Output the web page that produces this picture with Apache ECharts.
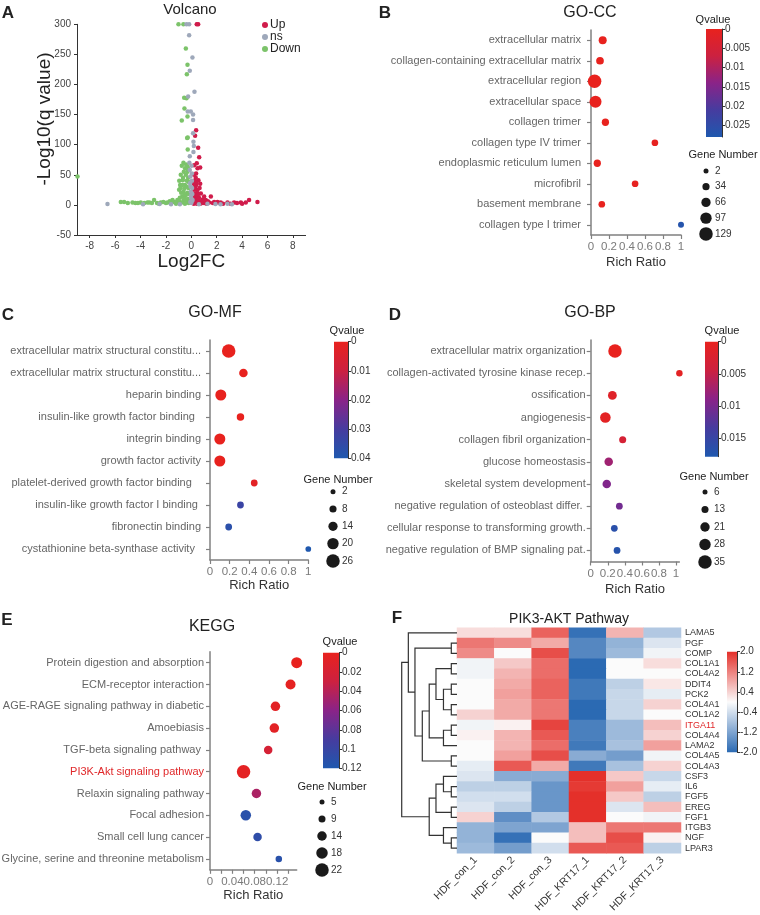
<!DOCTYPE html>
<html><head><meta charset="utf-8">
<script src="https://cdn.jsdelivr.net/npm/echarts@6/dist/echarts.min.js"></script>
<style>html,body{margin:0;padding:0;background:#fff}#c{width:760px;height:915px}</style>
</head><body><div id="c"></div>
<script>
// ---------------- DATA ----------------
const volcanoUp = [
[0.43,300],[0.54,300],[0.38,124],[0.30,115],[0.54,95],[0.62,79],[0.43,69],[0.22,66],
[0.49,61],[0.70,62],[0.38,52],[0.56,41],[0.38,33],[0.70,35],[0.49,25],[0.75,19],[0.35,14],[1.01,14],[1.54,14],[1.14,8],
[2.06,5],[2.85,4],[3.9,4],[4.55,8],[5.21,5],[4.29,4],[3.37,4],[2.32,4],[1.80,5],[1.4,4],
[0.25,40],[0.30,30],[0.22,25],[0.45,20],[0.28,18],[0.60,12],[0.25,10],[0.40,8],[0.80,6],[0.30,4],[0.55,3],[0.20,2],
[1.0,3],[1.2,2],[0.65,28],[0.90,9],[1.7,3],[2.5,2],[3.1,2],[3.6,3],[4.0,2],[0.35,45],[0.20,35],[0.20,15],[0.50,16],
[0.30,8],[0.25,5],[0.60,5],[0.45,2],[0.70,2],[0.85,3],[1.3,6],[2.2,3],[0.22,50],[0.40,38],[0.55,10]
];
const volcanoNs = [
[-0.38,300],[-0.17,300],[-0.17,282],[0.09,245],[-0.12,223],[0.25,188],[-0.25,180],[-0.28,155],[-0.04,155],[0.14,150],
[0.14,141],[0.14,119],[0.17,105],[0.20,98],[0.17,88],[-0.12,81],
[-0.12,58],[-0.07,47],[-0.10,36],[-0.04,22],[0,11],[0,3],[0.05,40],[-0.05,30],[0.08,18],[0.10,8],[-0.08,5],[0.05,52],
[0.02,65],[-0.15,70],[0.06,28],[-0.02,15],[0.04,6],
[-6.6,1.5],[1.27,2],[1.9,1.5],[2.85,2],[3.2,1],[-2.5,1.5],[-1.6,1.2],[-3.8,1],[-0.9,1],[0.6,1],[2.3,1]
];
const volcanoDown = [
[-1.01,300],[-0.62,300],[-0.43,260],[-0.30,233],[-0.35,217],[-0.56,178],[-0.38,177],[-0.54,160],[-0.30,147],[-0.75,140],
[-0.28,112],[-0.33,111],[-0.28,92],
[-0.62,70],[-0.41,67],[-0.75,65],[-0.49,61],[-0.30,64],[-0.59,55],[-0.83,50],[-0.43,50],[-0.67,41],[-0.88,33],[-0.49,33],
[-0.96,25],[-0.62,22],[-0.72,14],[-1.09,8],[-1.35,5],[-1.61,4],
[-0.25,45],[-0.20,38],[-0.35,30],[-0.55,27],[-0.80,20],[-0.30,20],[-0.45,15],[-0.90,12],[-0.25,10],[-0.60,8],[-0.40,5],
[-0.75,4],[-0.20,3],[-1.2,2],[-0.50,2],[-0.30,55],[-0.65,45],[-0.95,40],[-0.22,28],[-0.85,28],[-0.20,18],[-0.50,10],
[-0.35,40],[-0.70,33],[-0.25,60],[-0.55,18],[-0.95,6],
[-5.55,5],[-5.29,5],[-4.63,4],[-3.98,4],[-3.45,4],[-2.93,8],[-2.4,4],[-1.88,4],[-1.48,8],[-1.22,4],[-3.3,4],[-4.2,3],
[-5.0,3],[-4.4,3],[-3.7,3],[-2.7,3],[-2.2,5],[-2.0,3],[-1.7,6],[-3.1,3],[-2.55,2],
[-8.96,47]
];
const volcanoXTicks = [-8,-6,-4,-2,0,2,4,6,8];

const ccTerms = ['extracellular matrix','collagen-containing extracellular matrix','extracellular region','extracellular space','collagen trimer','collagen type IV trimer','endoplasmic reticulum lumen','microfibril','basement membrane','collagen type I trimer'];
const ccRatio = [0.13,0.10,0.04,0.05,0.16,0.71,0.07,0.49,0.12,1.0];
const ccGenes = [47,42,129,107,36,27,36,27,27,17];
const ccQ = [0,0,0,0,0,0.0005,0,0.0005,0,0.027];
const ccGeneLegend = [2,34,66,97,129];
const ccQTicks = [0,0.005,0.01,0.015,0.02,0.025];

const mfTerms = ['extracellular matrix structural constitu...','extracellular matrix structural constitu...','heparin binding','insulin-like growth factor binding  ','integrin binding','growth factor activity','platelet-derived growth factor binding   ','insulin-like growth factor I binding ','fibronectin binding','cystathionine beta-synthase activity  '];
const mfRatio = [0.19,0.34,0.11,0.31,0.10,0.10,0.45,0.31,0.19,1.0];
const mfGenes = [26,12,19,9,19,19,7,7,7,4];
const mfQ = [0,0,0,0,0,0,0.002,0.033,0.037,0.04];
const mfGeneLegend = [2,8,14,20,26];
const mfQTicks = [0,0.01,0.02,0.03,0.04];

const bpTerms = ['extracellular matrix organization','collagen-activated tyrosine kinase recep.','ossification','angiogenesis','collagen fibril organization','glucose homeostasis','skeletal system development','negative regulation of osteoblast differ. ','cellular response to transforming growth.','negative regulation of BMP signaling pat.'];
const bpRatio = [0.285,1.04,0.254,0.172,0.375,0.211,0.188,0.336,0.277,0.309];
const bpGenes = [35,11,19,25,13,18,18,12,12,12];
const bpQ = [0,0.0008,0.0015,0.0008,0.003,0.0075,0.0095,0.0105,0.0165,0.017];
const bpGeneLegend = [6,13,21,28,35];
const bpQTicks = [0,0.005,0.01,0.015];

const keggTerms = ['Protein digestion and absorption','ECM-receptor interaction','AGE-RAGE signaling pathway in diabetic','Amoebiasis','TGF-beta signaling pathway ','PI3K-Akt signaling pathway','Relaxin signaling pathway','Focal adhesion','Small cell lung cancer','Glycine, serine and threonine metabolism'];
const keggRatio = [0.155,0.144,0.117,0.115,0.104,0.060,0.083,0.064,0.085,0.123];
const keggGenes = [17,15,14,14,12,22,14,16,12,8];
const keggQ = [0,0.003,0.006,0.006,0.02,0.004,0.045,0.112,0.108,0.112];
const keggGeneLegend = [5,9,14,18,22];
const keggQTicks = [0,0.02,0.04,0.06,0.08,0.1,0.12];

const richTicks = [0,0.2,0.4,0.6,0.8,1];
const keggTicks = [0,0.02,0.04,0.06,0.08,0.1,0.12,0.14];
const keggLabels = [0,0.04,0.08,0.12];

const heatSamples = ['HDF_con_1','HDF_con_2','HDF_con_3','HDF_KRT17_1','HDF_KRT17_2','HDF_KRT17_3'];
const heatGenes = ['LAMA5','PGF','COMP','COL1A1','COL4A2','DDIT4','PCK2','COL4A1','COL1A2','ITGA11','COL4A4','LAMA2','COL4A5','COL4A3','CSF3','IL6','FGF5','EREG','FGF1','ITGB3','NGF','LPAR3'];
const heatValues = [
[0.3,0.3,1.5,-1.9,0.7,-0.7],
[1.3,1.1,0.8,-1.6,-1.0,-0.3],
[1.1,0.0,1.7,-1.6,-0.9,-0.1],
[-0.1,0.5,1.4,-2.0,0.0,0.3],
[-0.1,0.7,1.4,-2.0,0.0,0.0],
[0.0,0.8,1.5,-1.8,-0.6,0.2],
[0.0,0.9,1.5,-1.8,-0.5,-0.2],
[0.0,0.8,1.3,-2.0,-0.5,0.4],
[0.4,0.8,1.3,-2.0,-0.5,0.0],
[-0.1,0.1,1.8,-1.7,-0.9,0.6],
[0.1,0.7,1.6,-1.7,-0.9,0.4],
[0.0,0.7,1.4,-1.8,-0.8,0.9],
[0.0,0.9,1.7,-1.1,-1.3,-0.1],
[-0.2,1.6,0.8,-1.8,-0.8,0.4],
[-0.3,-1.1,-1.1,2.0,0.5,-0.5],
[-0.6,-0.6,-1.4,1.9,0.9,-0.2],
[-0.4,-0.4,-1.4,2.0,0.5,-0.6],
[-0.3,-0.6,-1.4,2.0,-0.3,0.6],
[0.4,-1.5,-0.7,2.0,0.0,-0.1],
[-1.0,-1.2,-1.2,0.6,1.3,1.3],
[-1.0,-1.9,0.0,0.6,1.7,0.1],
[-0.9,-1.3,-0.4,1.6,1.6,-0.6]
];
const heatTicks = [-2,-1.2,-0.4,0.4,1.2,2];
// dendrogram: [height, left, right]; leaves = row index
const dendro = [7.76,
  [6.83, 0, [5.9, [0.8,1,2], [4.87, [3.9, [2.95,[0.8,3,4],[1.9,[0.8,5,6],[0.8,7,8]]], [1.9,[0.8,9,10],11]], [0.8,12,13]]]],
  [3.9, [2.95,[1.9,14,[0.8,15,16]],[0.8,17,18]], [1.9,19,[0.8,20,21]]]
];

// ---------------- BUILD ----------------
const FONT = "'Liberation Sans', Arial, Helvetica, sans-serif";
const Q_COLORS = ['#e8221e','#cc2140','#8a2388','#463c9f','#1f58ae'];
const HEAT_COLORS = ['#2b6ab3','#fbfbfb','#e4302a'];
const chart = echarts.init(document.getElementById('c'), null, {renderer:'canvas', width:760, height:915});
const grids=[], xAxes=[], yAxes=[], series=[], visualMaps=[], graphics=[];
function addGrid(rect, xa, ya){
  const i = grids.length;
  grids.push(Object.assign({containLabel:false, outerBoundsMode:'none'}, rect));
  xa.gridIndex=i; ya.gridIndex=i; xAxes.push(xa); yAxes.push(ya); return i;
}
function label(t, x, y, size, extra){
  graphics.push({type:'text', x:x, y:y, silent:true, z:100,
    style:Object.assign({text:t, fontSize:size, fontFamily:FONT, fill:'#222', align:'center', verticalAlign:'middle'}, extra||{})});
}
function gradient(colors){
  return new echarts.graphic.LinearGradient(0,0,0,1, colors.map((c,i)=>({offset:i/(colors.length-1), color:c})));
}
function colorBar(rect, min, max, inverse, ticks, colorsTopBottom, fmt){
  const gi = addGrid(rect, {type:'value', min:0, max:1, show:false},
    {type:'value', min:min, max:max, inverse:inverse, position:'right',
     axisLine:{show:true, onZero:false, lineStyle:{color:'#333', width:1}},
     axisTick:{show:true, length:3, customValues:ticks, lineStyle:{color:'#333'}},
     axisLabel:{show:true, customValues:ticks, fontSize:10, color:'#333', margin:3, fontFamily:FONT, formatter:fmt, hideOverlap:false},
     splitLine:{show:false}});
  series.push({type:'custom', xAxisIndex:gi, yAxisIndex:gi, silent:true, data:[[min,max]],
    renderItem:(p, api)=>{
      const a=api.coord([0, api.value(0)]), b=api.coord([1, api.value(1)]);
      return {type:'rect', shape:{x:Math.min(a[0],b[0]), y:Math.min(a[1],b[1]), width:Math.abs(b[0]-a[0]), height:Math.abs(b[1]-a[1])},
              style:{fill:gradient(colorsTopBottom)}};
    }});
}
function dotPanel(c){
  const L = c.legend;
  const sizeOf = n => 5 + 8.5*(n - L[0])/(L[L.length-1]-L[0]);
  const gi = addGrid(c.grid,
    {type:'value', min:0, max:c.xmax, name:'Rich Ratio', nameLocation:'middle', nameGap:c.nameGap,
     nameTextStyle:{fontSize:13, color:'#333', fontFamily:FONT},
     axisLine:{show:true, onZero:false, lineStyle:{color:'#808080', width:1.5}},
     axisTick:{show:true, length:4, customValues:c.ticks, lineStyle:{color:'#808080', width:1.2}},
     axisLabel:{show:true, customValues:c.labels, fontSize:11.5, color:'#7a7a7a', margin:6, fontFamily:FONT, hideOverlap:false,
       showMinLabel:true, showMaxLabel:true},
     splitLine:{show:false}},
    {type:'category', data:c.terms, inverse:true, boundaryGap:true,
     axisLine:{show:true, onZero:false, lineStyle:{color:'#808080', width:1.5}},
     axisTick:{show:true, alignWithLabel:true, length:4, lineStyle:{color:'#808080', width:1.2}},
     axisLabel:{interval:0, fontSize:11, color:'#666', margin:c.margin, fontFamily:FONT, hideOverlap:false,
       formatter: v => (c.highlight && v===c.highlight) ? '{r|'+v+'}' : v,
       rich:{r:{color:'#e0282a', fontSize:11, fontFamily:FONT}}},
     splitLine:{show:false}});
  series.push({type:'scatter', xAxisIndex:gi, yAxisIndex:gi, clip:false,
    data:c.terms.map((t,i)=>[c.ratio[i], i, c.q[i], c.genes[i]]),
    symbolSize: d => sizeOf(d[3]), itemStyle:{opacity:1}, emphasis:{disabled:true}});
  visualMaps.push({type:'continuous', show:false, seriesIndex:series.length-1, dimension:2, min:0, max:c.qmax, inRange:{color:Q_COLORS}});
  colorBar(c.cbar, 0, c.qmax, true, c.qticks, Q_COLORS, v=>String(v));
  const li = addGrid(c.sizeGrid, {type:'value', min:-1, max:1, show:false},
    {type:'category', data:L.map(String), inverse:true, position:'right', boundaryGap:true,
     axisLine:{show:false}, axisTick:{show:false},
     axisLabel:{interval:0, fontSize:10, color:'#333', margin:3, fontFamily:FONT}, splitLine:{show:false}});
  series.push({type:'scatter', xAxisIndex:li, yAxisIndex:li, silent:true,
    data:L.map((v,i)=>[0,i,v]), symbolSize:d=>sizeOf(d[2]), itemStyle:{color:'#1a1a1a', opacity:1}});
  label('Qvalue', c.qTitle[0], c.qTitle[1], 11);
  label('Gene Number', c.gTitle[0], c.gTitle[1], 11);
}

// ---- A: Volcano
const vg = addGrid({left:77, top:24.3, width:228.6, height:210.7},
  {type:'value', min:-9, max:9, name:'Log2FC', nameLocation:'middle', nameGap:13,
   nameTextStyle:{fontSize:19, color:'#222', fontFamily:FONT},
   axisLine:{show:true, onZero:false, lineStyle:{color:'#333', width:1}},
   axisTick:{show:true, length:3, customValues:volcanoXTicks, lineStyle:{color:'#333'}},
   axisLabel:{show:true, customValues:volcanoXTicks, fontSize:10, color:'#444', margin:6, fontFamily:FONT},
   splitLine:{show:false}},
  {type:'value', min:-50, max:300, interval:50,
   axisLine:{show:true, onZero:false, lineStyle:{color:'#333', width:1}},
   axisTick:{show:true, length:3, lineStyle:{color:'#333'}},
   axisLabel:{show:true, fontSize:10, color:'#444', margin:6, fontFamily:FONT},
   splitLine:{show:false}});
series.push({name:'Down', type:'scatter', xAxisIndex:vg, yAxisIndex:vg, data:volcanoDown, symbolSize:4.5, itemStyle:{color:'#7cc36a', opacity:1}, clip:false});
series.push({name:'Up', type:'scatter', xAxisIndex:vg, yAxisIndex:vg, data:volcanoUp, symbolSize:4.5, itemStyle:{color:'#d01c4b', opacity:1}, clip:false});
series.push({name:'ns', type:'scatter', xAxisIndex:vg, yAxisIndex:vg, data:volcanoNs, symbolSize:4.5, itemStyle:{color:'#9ea8ba', opacity:1}, clip:false});
label('-Log10(q value)', 45, 119, 19);
graphics[graphics.length-1].rotation = Math.PI/2;

// ---- B: GO-CC
dotPanel({terms:ccTerms, ratio:ccRatio, genes:ccGenes, q:ccQ, legend:ccGeneLegend, qmax:0.028, qticks:ccQTicks,
  grid:{left:591, top:30, width:90, height:205}, xmax:1, ticks:richTicks, labels:richTicks, nameGap:21, margin:10,
  cbar:{left:706, top:29, width:16, height:108}, sizeGrid:{left:700, top:163, width:12, height:78.75},
  qTitle:[713,20], gTitle:[723,155]});
// ---- C: GO-MF
dotPanel({terms:mfTerms, ratio:mfRatio, genes:mfGenes, q:mfQ, legend:mfGeneLegend, qmax:0.04, qticks:mfQTicks,
  grid:{left:210, top:340, width:98.3, height:220}, xmax:1, ticks:richTicks, labels:richTicks, nameGap:19, margin:9,
  cbar:{left:334, top:341.7, width:14, height:116.6}, sizeGrid:{left:327, top:483, width:12, height:86.6},
  qTitle:[347,331], gTitle:[338,480]});
// ---- D: GO-BP
dotPanel({terms:bpTerms, ratio:bpRatio, genes:bpGenes, q:bpQ, legend:bpGeneLegend, qmax:0.0178, qticks:bpQTicks,
  grid:{left:590.7, top:340, width:88.7, height:221.5}, xmax:1.04, ticks:richTicks, labels:richTicks, nameGap:21, margin:5,
  cbar:{left:705, top:341.7, width:13, height:115}, sizeGrid:{left:699, top:483.25, width:12, height:87.5},
  qTitle:[722,331], gTitle:[714,477]});
// ---- E: KEGG
dotPanel({terms:keggTerms, ratio:keggRatio, genes:keggGenes, q:keggQ, legend:keggGeneLegend, qmax:0.12, qticks:keggQTicks,
  grid:{left:210, top:651.8, width:86.7, height:218}, xmax:0.155, ticks:keggTicks, labels:keggLabels, nameGap:18, margin:6,
  cbar:{left:323, top:652.7, width:16, height:115.6}, sizeGrid:{left:316, top:793.5, width:12, height:85},
  qTitle:[340,642], gTitle:[332,787], highlight:'PI3K-Akt signaling pathway'});

// ---- F: heatmap
const hg = addGrid({left:457, top:627.7, width:224, height:225.6},
  {type:'category', data:heatSamples, axisLine:{show:false}, axisTick:{show:false},
   axisLabel:{interval:0, rotate:45, fontSize:10.5, color:'#333', margin:5, fontFamily:FONT}, splitLine:{show:false}},
  {type:'category', data:heatGenes, inverse:true, position:'right', axisLine:{show:false}, axisTick:{show:false},
   axisLabel:{interval:0, fontSize:9, color:'#333', margin:4, fontFamily:FONT,
     formatter:v=> v==='ITGA11' ? '{r|ITGA11}' : v, rich:{r:{color:'#e0282a', fontSize:9, fontFamily:FONT}}},
   splitLine:{show:false}});
const heatData=[]; heatValues.forEach((row,r)=>row.forEach((v,c)=>heatData.push([c,r,v])));
series.push({type:'heatmap', xAxisIndex:hg, yAxisIndex:hg, data:heatData, itemStyle:{borderWidth:0}, emphasis:{disabled:true}});
visualMaps.push({type:'continuous', show:false, seriesIndex:series.length-1, dimension:2, min:-2, max:2, inRange:{color:HEAT_COLORS}});
colorBar({left:727, top:651.7, width:10, height:100.6}, -2, 2, false, heatTicks, HEAT_COLORS.slice().reverse(), v=>v.toFixed(1));
// dendrogram
const dg = addGrid({left:400, top:627.7, width:57, height:225.6},
  {type:'value', min:0, max:8, inverse:true, show:false}, {type:'value', min:0, max:22, inverse:true, show:false});
const segs=[];
function walk(n){
  if (typeof n === 'number') return {h:0, y:n+0.5};
  const a=walk(n[1]), b=walk(n[2]);
  segs.push({coords:[[a.h,a.y],[n[0],a.y],[n[0],b.y],[b.h,b.y]]});
  return {h:n[0], y:(a.y+b.y)/2};
}
walk(dendro);
series.push({type:'lines', coordinateSystem:'cartesian2d', xAxisIndex:dg, yAxisIndex:dg, polyline:true, silent:true,
  data:segs, lineStyle:{color:'#333', width:1.2, opacity:1}});

// ---- titles & letters
const B = {fontWeight:'bold'};
label('A', 8, 13, 17, B); label('B', 385, 13, 17, B); label('C', 8, 315, 17, B);
label('D', 395, 315, 17, B); label('E', 7, 620, 17, B); label('F', 397, 618, 17, B);
label('Volcano', 190, 10, 15); label('GO-CC', 590, 13, 16); label('GO-MF', 215, 313, 16);
label('GO-BP', 590, 313, 16); label('KEGG', 212, 627, 16); label('PIK3-AKT Pathway', 569, 619, 14);

chart.setOption({
  animation:false, backgroundColor:'#ffffff', textStyle:{fontFamily:FONT},
  grid:grids, xAxis:xAxes, yAxis:yAxes, series:series, visualMap:visualMaps, graphic:graphics,
  legend:{data:['Up','ns','Down'], orient:'vertical', left:262, top:19, padding:0, itemWidth:6, itemHeight:6, itemGap:0,
    icon:'circle', selectedMode:false, textStyle:{fontSize:12, color:'#222', fontFamily:FONT, lineHeight:11, padding:[0,0,0,-3]}}
});
</script></body></html>
